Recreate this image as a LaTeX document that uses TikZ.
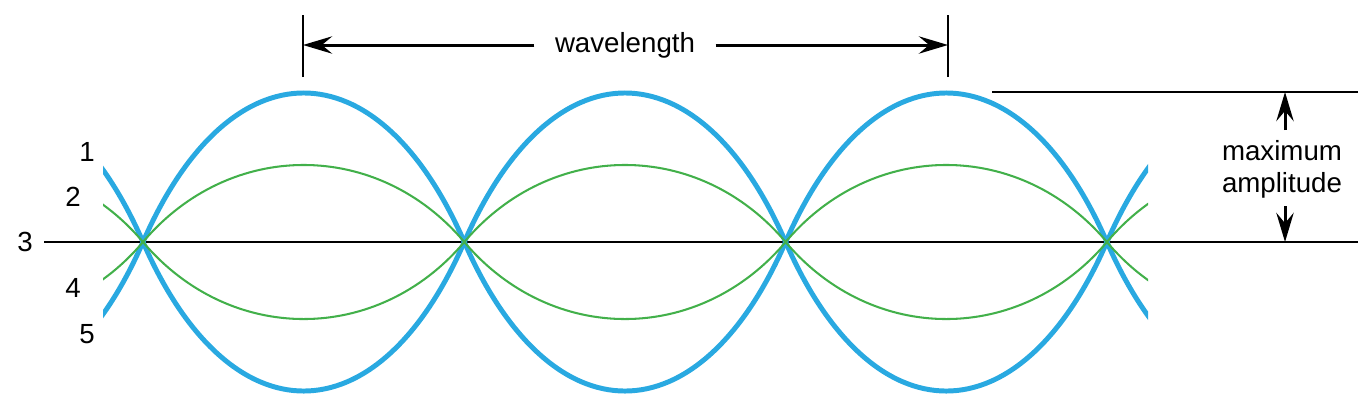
\documentclass[tikz,border=0pt]{standalone}
\usepackage{fontspec}
\setmainfont{Liberation Sans}
\usetikzlibrary{arrows.meta}

\definecolor{waveblue}{RGB}{41,169,225}
\definecolor{wavegreen}{RGB}{66,176,74}

\begin{document}
\begin{tikzpicture}[x=0.127mm,y=0.127mm,
        >={Stealth[length=3.7mm,width=2.2mm,inset=1.3mm]},
        label/.style={inner sep=0pt,font=\fontsize{10}{11.5}\selectfont},
        blue wave/.style={waveblue,line width=0.63mm},
        green wave/.style={wavegreen,line width=0.26mm},
        thin line/.style={line width=0.26mm},
        dim line/.style={line width=0.38mm}]
        \useasboundingbox (0,-168) rectangle (1358,242);
        % nodes of the standing wave
        \coordinate (n_0) at (-178.3,0);
        \coordinate (n_1) at (143,0);
        \coordinate (n_2) at (464.3,0);
        \coordinate (n_3) at (785.6,0);
        \coordinate (n_4) at (1106.9,0);
        \coordinate (n_5) at (1428.2,0);
        \draw[thin line] (44,0) -- (1358,0);
        \begin{scope}
          \clip (103,-200) rectangle (1148,200);
          \foreach \sty/\h in {blue wave/198.7, blue wave/-198.7, green wave/102.7, green wave/-102.7}
            \draw[\sty] (n_0) .. controls +(86.8,\h) and +(-86.8,\h) .. (n_1)
                        .. controls +(86.8,-1*\h) and +(-86.8,-1*\h) .. (n_2)
                        .. controls +(86.8,\h) and +(-86.8,\h) .. (n_3)
                        .. controls +(86.8,-1*\h) and +(-86.8,-1*\h) .. (n_4)
                        .. controls +(86.8,\h) and +(-86.8,\h) .. (n_5);
        \end{scope}
        % curve numbers
        \node[label] (lbl_1) at (87,90) {1};
        \node[label] (lbl_2) at (73,45) {2};
        \node[label] (lbl_3) at (25,0) {3};
        \node[label] (lbl_4) at (73,-46) {4};
        \node[label] (lbl_5) at (87,-92) {5};
        % wavelength
        \coordinate (wl_l) at (303,197);
        \coordinate (wl_r) at (948,197);
        \draw[thin line] (303,165) -- (303,227);
        \draw[thin line] (948,165) -- (948,227);
        \node[label,inner xsep=2.55mm] (wl) at (625,197) {wavelength};
        % maximum amplitude
        \draw[thin line] (992,150) -- (1358,150);
        \coordinate (amp_top) at (1285,150);
        \coordinate (amp_bot) at (1285,0);
        \coordinate (amp_up) at (1285,112);
        \coordinate (amp_dn) at (1285,36);
        \node[label,align=center] (amp) at (1282,73) {maximum\\amplitude};
        \path[->,dim line]
        (wl) edge (wl_l)
             edge (wl_r)
        (amp_up) edge (amp_top)
        (amp_dn) edge (amp_bot);
\end{tikzpicture}
\end{document}
